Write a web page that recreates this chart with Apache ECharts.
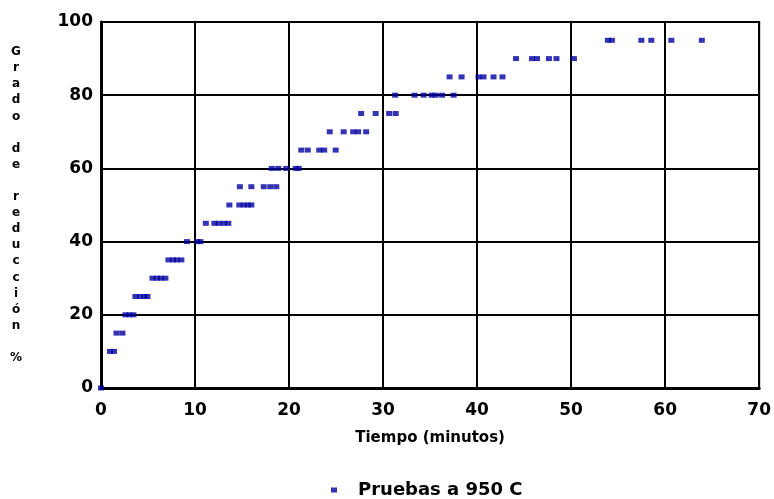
<!DOCTYPE html>
<html>
<head>
<meta charset="utf-8">
<script src="https://cdn.jsdelivr.net/npm/echarts@6/dist/echarts.min.js"></script>
<style>html,body{margin:0;padding:0;background:#fff}#c{width:774px;height:499px}</style>
</head>
<body>
<div id="c"></div>
<script>
// Grado de reducción (%) levels and the times (min) at which each was recorded
var levels = [0, 10, 15, 20, 25, 30, 35, 40, 45, 50, 55, 60, 65, 70, 75, 80, 85, 90, 95];
var times0  = [0.0];
var times10 = [0.96, 1.38];
var times15 = [1.65, 2.28];
var times20 = [2.6, 3.03, 3.45];
var times25 = [3.66, 4.14, 4.62, 4.94];
var times30 = [5.47, 5.95, 6.37, 6.85];
var times35 = [7.17, 7.65, 8.07, 8.55];
var times40 = [9.14, 10.25, 10.57];
var times45 = [11.15, 12.06, 12.53, 13.07, 13.54];
var times50 = [13.65, 14.71, 15.19, 15.61, 15.99];
var times55 = [14.77, 15.99, 17.31, 18.0, 18.64];
var times60 = [18.16, 18.85, 19.7, 20.71, 21.03];
var times65 = [21.3, 21.99, 23.21, 23.74, 24.96];
var times70 = [24.33, 25.81, 26.82, 27.35, 28.2];
var times75 = [27.67, 29.21, 30.65, 31.34];
var times80 = [31.28, 33.35, 34.31, 35.16, 35.59, 36.28, 37.5];
var times85 = [37.07, 38.35, 40.15, 40.68, 41.75, 42.7];
var times90 = [44.14, 45.84, 46.37, 47.64, 48.44, 50.3];
var times95 = [53.91, 54.34, 57.47, 58.53, 60.66, 63.9];
var timesByLevel = [times0, times10, times15, times20, times25, times30, times35, times40, times45,
  times50, times55, times60, times65, times70, times75, times80, times85, times90, times95];
var xTicks = [0, 10, 20, 30, 40, 50, 60, 70];
var yTicks = [0, 20, 40, 60, 80, 100];
var seriesName = 'Pruebas a 950 C';
var xTitle = 'Tiempo (minutos)';
var yTitle = 'Grado de reducción %';

var points = [];
levels.forEach(function (lv, i) {
  timesByLevel[i].forEach(function (t) { points.push([t, lv]); });
});

var FONT = 'DejaVu Sans';
var chart = echarts.init(document.getElementById('c'));
chart.setOption({
  animation: false,
  backgroundColor: '#ffffff',
  grid: { left: 101, right: 14, top: 22, bottom: 111, show: true, borderColor: '#000', borderWidth: 2 },
  xAxis: {
    type: 'value', min: 0, max: 70, interval: 10,
    name: xTitle, nameLocation: 'middle', nameGap: 43,
    nameTextStyle: { fontFamily: FONT, fontWeight: 'bold', fontSize: 15, color: '#000' },
    axisLine: { show: true, lineStyle: { color: '#000', width: 3 } },
    axisTick: { show: false },
    axisLabel: { fontFamily: FONT, fontWeight: 'bold', fontSize: 17, color: '#000', margin: 14,
      formatter: function (v) { return xTicks.indexOf(v) >= 0 ? String(v) : ''; } },
    splitLine: { show: true, lineStyle: { color: '#000', width: 2 } }
  },
  yAxis: {
    type: 'value', min: 0, max: 100, interval: 20,
    axisLine: { show: true, lineStyle: { color: '#000', width: 3 } },
    axisTick: { show: false },
    axisLabel: { fontFamily: FONT, fontWeight: 'bold', fontSize: 17, color: '#000', margin: 8,
      formatter: function (v) { return yTicks.indexOf(v) >= 0 ? String(v) : ''; } },
    splitLine: { show: true, lineStyle: { color: '#000', width: 2 } }
  },
  legend: {
    data: [{ name: seriesName, icon: 'rect' }],
    left: 326, top: 476, itemWidth: 6, itemHeight: 5, itemGap: 0,
    textStyle: { fontFamily: FONT, fontWeight: 'bold', fontSize: 18, color: '#000', padding: [4, 0, 0, 16] }
  },
  graphic: [{
    type: 'text', left: 10, top: 44,
    style: {
      text: yTitle.split('').join('\n'),
      fontFamily: FONT, fontWeight: 'bold', fontSize: 12, lineHeight: 16.1,
      fill: '#000', textAlign: 'center'
    }
  }],
  series: [{
    name: seriesName, type: 'scatter', data: points,
    symbol: 'rect', symbolSize: [6, 5],
    itemStyle: { color: '#0000a0' }
  }]
});
</script>
</body>
</html>
